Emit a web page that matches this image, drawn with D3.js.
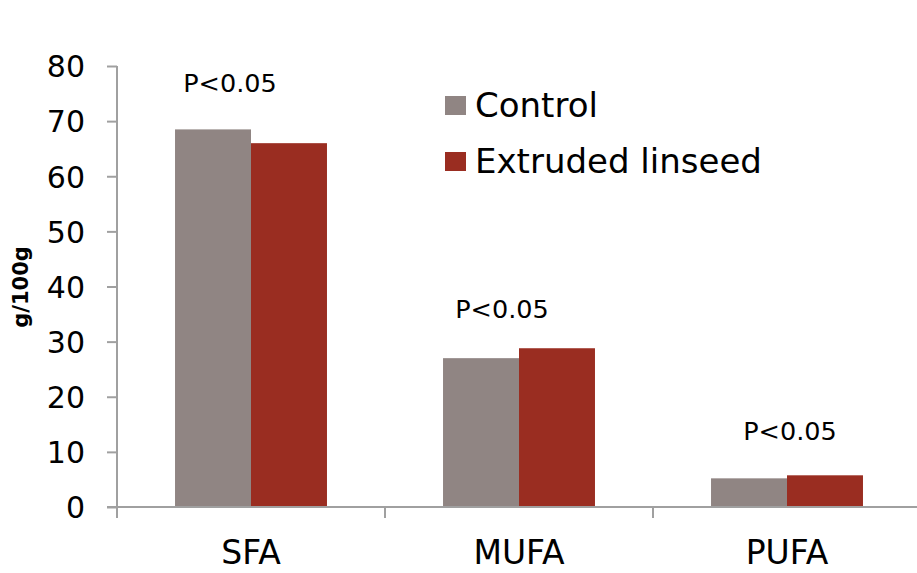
<!DOCTYPE html>
<html><head><meta charset="utf-8">
<script src="https://cdn.jsdelivr.net/npm/d3@7"></script>
<style>body{margin:0;background:#fff}svg{display:block}text{font-family:"DejaVu Sans",sans-serif}</style>
</head><body><svg id="c" width="917" height="573"></svg>
<script>
const categories = ["SFA", "MUFA", "PUFA"];
const seriesNames = ["Control", "Extruded linseed"];
const controlValues = [68.5, 27.0, 5.2];
const linseedValues = [66.0, 28.8, 5.75];
const yTicks = [0, 10, 20, 30, 40, 50, 60, 70, 80];
const pLabels = ["P<0.05", "P<0.05", "P<0.05"];
const pLabelValues = [75.3, 34.3, 12.2];
const colors = ["#908583", "#9a2d21"];

const svg = d3.select("#c");
const x = d3.scaleBand().domain(categories).range([117, 921]).paddingInner(0.433).paddingOuter(0.2165);
const xs = d3.scaleBand().domain(seriesNames).range([0, x.bandwidth()]);
const y = d3.scaleLinear().domain([0, 80]).range([507, 66]);
const step = x.step();
const axisColor = "#a0a0a0";

// Bars
const seriesVals = [controlValues, linseedValues];
seriesNames.forEach((s, si) => {
  svg.append("g").selectAll("rect").data(categories).join("rect")
    .attr("x", c => x(c) + xs(s))
    .attr("y", (c, i) => y(seriesVals[si][i]))
    .attr("width", xs.bandwidth())
    .attr("height", (c, i) => y(0) - y(seriesVals[si][i]))
    .attr("fill", colors[si]);
});

// Y axis
const yAxis = svg.append("g").attr("transform", "translate(117,0)")
  .call(d3.axisLeft(y).tickValues(yTicks).tickSize(10).tickPadding(22));
yAxis.select(".domain").attr("stroke", axisColor).attr("stroke-width", 2).attr("d", `M0,${y(80)}V${y(0)}`);
yAxis.selectAll(".tick line").attr("stroke", axisColor).attr("stroke-width", 2);
yAxis.selectAll(".tick text").attr("font-size", 30).attr("fill", "#000")
  .attr("font-family", "'DejaVu Sans', sans-serif").attr("dy", "0.36em");

// X axis
const xg = svg.append("g");
xg.append("line").attr("x1", 107).attr("x2", 917).attr("y1", y(0)).attr("y2", y(0))
  .attr("stroke", axisColor).attr("stroke-width", 2);
const bounds = categories.map(c => x(c) - (step - x.bandwidth()) / 2);
xg.selectAll(".bt").data(bounds).join("line")
  .attr("x1", d => d).attr("x2", d => d).attr("y1", y(0)).attr("y2", y(0) + 11)
  .attr("stroke", axisColor).attr("stroke-width", 2);
xg.selectAll(".cl").data(categories).join("text")
  .attr("x", c => x(c) + x.bandwidth() / 2).attr("y", 564)
  .attr("text-anchor", "middle").attr("font-size", 33).attr("fill", "#000").text(c => c);

// Y title
svg.append("text").attr("transform", `translate(28,${287}) rotate(-90)`)
  .attr("text-anchor", "middle").attr("font-size", 21).attr("font-weight", "bold")
  .text("g/100g");

// P labels
const pOffsets = [-21, -17, 3];
svg.append("g").selectAll("text").data(categories).join("text")
  .attr("x", (c, i) => x(c) + x.bandwidth() / 2 + pOffsets[i])
  .attr("y", (c, i) => y(pLabelValues[i]))
  .attr("text-anchor", "middle").attr("font-size", 25.5).text((c, i) => pLabels[i]);

// Legend
const lg = svg.append("g");
seriesNames.forEach((s, i) => {
  const ly = 96 + i * 56;
  lg.append("rect").attr("x", 445).attr("y", ly).attr("width", 21).attr("height", 19).attr("fill", colors[i]);
  lg.append("text").attr("x", 475).attr("y", ly + 21).attr("font-size", 34).text(s);
});
</script></body></html>
